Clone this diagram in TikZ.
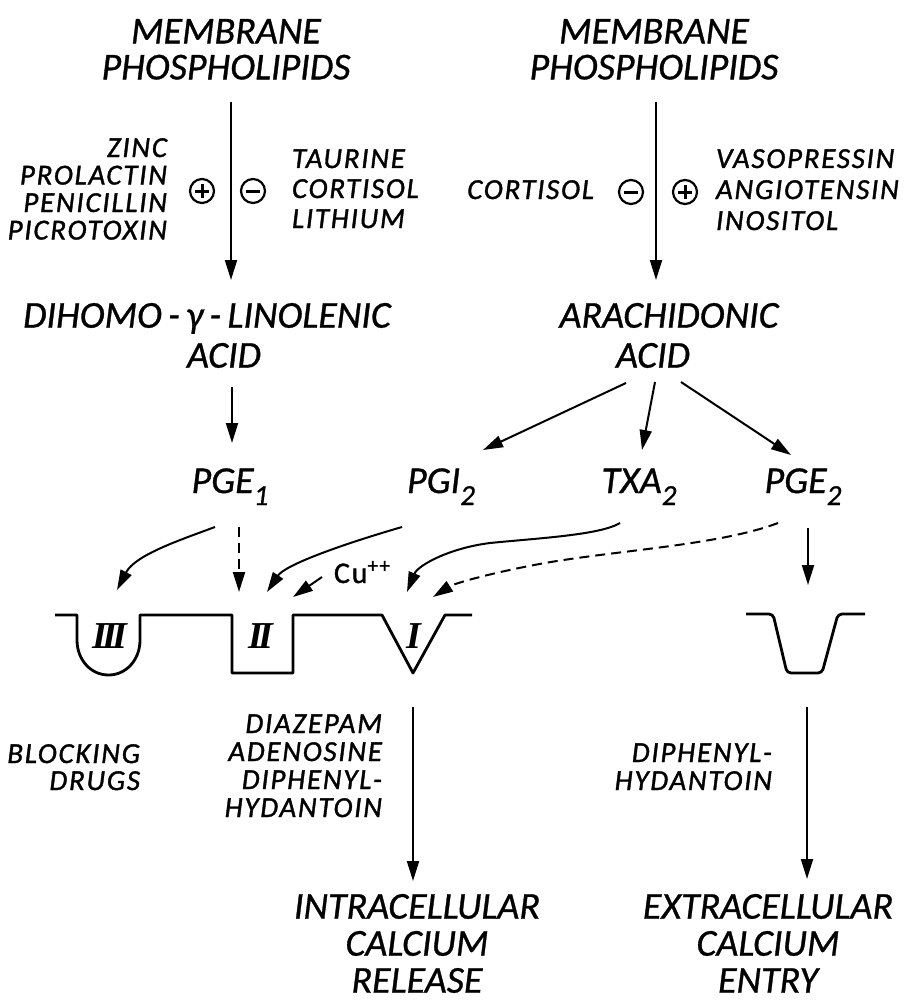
\documentclass[tikz,border=0pt]{standalone}
\usepackage{fontspec}
\setmainfont{Carlito}
\newfontfamily\titlefont{Carlito}[FakeBold=0.8]
\newfontfamily\drugfont{Carlito}[LetterSpace=6, FakeBold=1.2]
\newfontfamily\numfont{Liberation Serif}
\usetikzlibrary{arrows.meta, calc}
\newcommand{\lowsub}[1]{\raisebox{-6pt}{\fontsize{14.5}{14.5}\selectfont #1}}
\tikzset{
  every picture/.style={line width=1pt},
  title/.style={font=\titlefont\fontsize{19}{#1}\selectfont\itshape, inner sep=0pt, align=center},
  title/.default=18pt,
  drug/.style={font=\drugfont\fontsize{14.5}{14.5}\selectfont\itshape, inner sep=0pt},
  sign/.style={circle, draw, line width=1.1pt, inner sep=0pt, minimum size=12pt},
  minussign/.style={sign, path picture={\draw[line width=1.5pt] ($(path picture bounding box.center)+(-7,0)$) -- ++(14,0);}},
  plussign/.style={sign, path picture={\draw[line width=1.5pt] ($(path picture bounding box.center)+(-7,0)$) -- ++(14,0)
      ($(path picture bounding box.center)+(0,-7)$) -- ++(0,14);}},
  roman/.style={font=\numfont\fontsize{19}{19}\selectfont\bfseries\itshape, inner sep=0pt},
  arrow/.style={-{Triangle[length=10pt, width=6pt]}, line width=1pt},
  dasharrow/.style={arrow, dash pattern=on 5pt off 3pt},
  chan/.style={line width=1.4pt, line join=round},
}

\begin{document}
\begin{tikzpicture}[x=0.5pt, y=-0.5pt]
  \useasboundingbox (0,0) rectangle (918,1006);
  % precursors
  \node[title, anchor=north] (mem1) at (226,18) {MEMBRANE\\PHOSPHOLIPIDS};
  \node[title, anchor=north] (mem2) at (654,18) {MEMBRANE\\PHOSPHOLIPIDS};
  \node[title=20pt, anchor=north] (dih) at (207,302) {DIHOMO\,-\,γ\,-\,LINOLENIC\\\hspace*{17pt}ACID};
  \node[title=20pt, anchor=north] (ara) at (669,302) {ARACHIDONIC\\ACID\hspace*{16pt}};
  % prostaglandins
  \node[title, anchor=base] (pge1) at (230,493) {PGE\lowsub{1}};
  \node[title, anchor=base] (pgi2) at (441,493) {PGI\lowsub{2}};
  \node[title, anchor=base] (txa2) at (639,493) {TXA\lowsub{2}};
  \node[title, anchor=base] (pge2) at (803,493) {PGE\lowsub{2}};
  % calcium
  \node[title=18.5pt, anchor=north] (intra) at (417,893) {INTRACELLULAR\\CALCIUM\\RELEASE};
  \node[title=18.5pt, anchor=north] (extra) at (768,893) {EXTRACELLULAR\\CALCIUM\\ENTRY};

  % modulators
  \foreach \t [count=\i] in {ZINC, PROLACTIN, PENICILLIN, PICROTOXIN}
    \node[drug, anchor=base east] (stimL\i) at (168, 129.5+27.5*\i) {\t};
  \foreach \t [count=\i] in {TAURINE, CORTISOL, LITHIUM}
    \node[drug, anchor=base west] (inhL\i) at (291, 138+30*\i) {\t};
  \node[drug, anchor=base east] (inhR) at (595,199) {CORTISOL};
  \foreach \t [count=\i] in {VASOPRESSIN, ANGIOTENSIN, INOSITOL}
    \node[drug, anchor=base west] (stimR\i) at (715, 137+31*\i) {\t};
  \node[plussign] (plusL) at (202,191) {};
  \node[minussign] (minusL) at (253,191) {};
  \node[minussign] (minusR) at (631,192) {};
  \node[plussign] (plusR) at (685,192) {};

  % blockers
  \foreach \t [count=\i] in {BLOCKING, DRUGS}
    \node[drug, anchor=base east] (blk\i) at (141, 736+27*\i) {\t};
  \foreach \t [count=\i] in {DIAZEPAM, ADENOSINE, DIPHENYL-, HYDANTOIN}
    \node[drug, anchor=base east] (blkI\i) at (383, 705+28*\i) {\t};
  \foreach \t [count=\i] in {DIPHENYL-, HYDANTOIN}
    \node[drug, anchor=base east] (blkE\i) at (773, 734+28*\i) {\t};

  % channels
  \draw[chan] (55,615) -- (77,615) -- (77,640) .. controls (77,660) and (91,675) .. (108.5,675)
    .. controls (126,675) and (140,660) .. (140,640) -- (140,615) -- (232,615) -- (232,673)
    -- (293,673) -- (293,615) -- (382,615) -- (413,673) -- (445,615) -- (472,615);
  \draw[chan, rounded corners=2pt] (746,614) -- (773,614) -- (787,673) -- (822,673) -- (838,614) -- (865,614);
  \node[roman] (r3) at (110,636) {I\kern-2.5pt I\kern-2.5pt I};
  \node[roman] (r2) at (261,636) {I\kern-2.5pt I};
  \node[roman] (r1) at (414,636) {I};
  \node[drug, font=\drugfont\fontsize{15}{15}\selectfont, anchor=base west] (cu) at (333,583) {Cu\textsuperscript{++}};

  \coordinate (inIIIa) at (117,590);
  \coordinate (inIIa) at (239,592);
  \coordinate (inIIb) at (267,592);
  \coordinate (inIIc) at (293,597);
  \coordinate (inIa) at (407,592);
  \coordinate (inIb) at (433,597);
  \coordinate (inE) at (808,585);
  \coordinate (outI) at (413,707);
  \coordinate (outE) at (807,707);

  % pathways
  \draw[arrow] ($(mem1.north)+(5,84)$) -- ($(dih.north)+(24,-22)$);
  \draw[arrow] ($(mem2.north)+(2,84)$) -- ($(ara.north)+(-13,-22)$);
  \draw[arrow] ($(dih.north)+(25,85)$) -- ($(pge1.base)+(2,-50)$);
  \draw[arrow] ($(ara.north)+(-43,81)$) -- ($(pgi2.base)+(42,-43)$);
  \draw[arrow] ($(ara.north)+(-14,80)$) -- ($(txa2.base)+(3,-43)$);
  \draw[arrow] ($(ara.north)+(12,80)$) -- ($(pge2.base)+(-12,-38)$);
  \draw[arrow] ($(pge1.base)+(-15,34)$) .. controls (180,540) and (135,555) .. (inIIIa);
  \draw[dasharrow] ($(pge1.base)+(9,34)$) -- (inIIa);
  \draw[arrow] ($(pgi2.base)+(-39,34)$) .. controls (340,545) and (285,565) .. (inIIb);
  \draw[arrow] ($(cu.base west)+(-11,-6)$) -- (inIIc);
  \draw[arrow] ($(txa2.base)+(-19,30)$) .. controls (600,535) and (540,538) .. (490,543)
    .. controls (450,548) and (418,565) .. (inIa);
  \draw[dasharrow] ($(pge2.base)+(-25,30)$) .. controls (720,545) and (620,550) .. (545,563)
    .. controls (495,572) and (455,583) .. (inIb);
  \draw[arrow] ($(pge2.base)+(5,35)$) -- (inE);
  \draw[arrow] (outI) -- ($(intra.north)+(-4,-12)$);
  \draw[arrow] (outE) -- ($(extra.north)+(39,-14)$);
\end{tikzpicture}
\end{document}
